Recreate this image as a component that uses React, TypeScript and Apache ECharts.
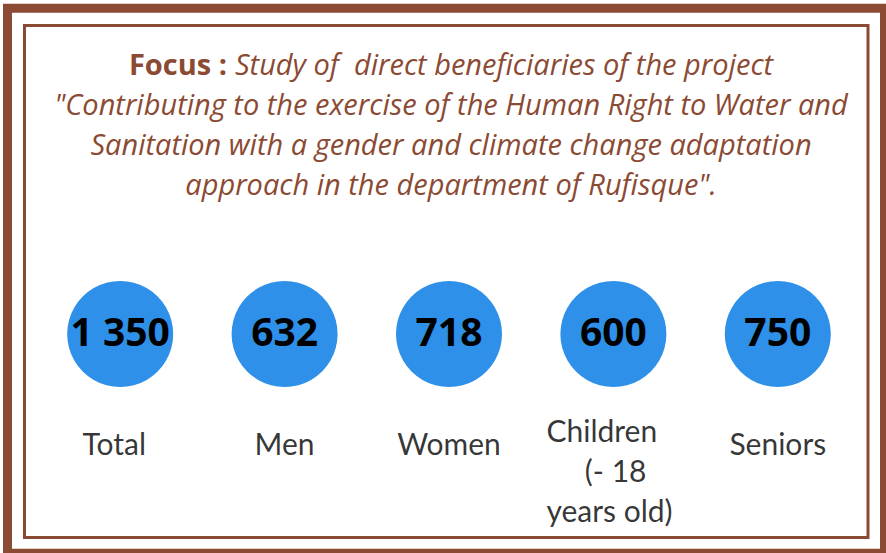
import React, { useEffect, useRef } from "react";
import * as echarts from "echarts";

const categories = ["Total", "Men", "Women", "Children", "Seniors"];
const values = [1350, 632, 718, 600, 750];
const categoryLabels = ["Total", "Men", "Women", "Children\n     (- 18\nyears old)", "Seniors"];
const titleBold = "Focus :";
const titleLines = [
  "Study of  direct beneficiaries of the project",
  "\"Contributing to the exercise of the Human Right to Water and",
  "Sanitation with a gender and climate change adaptation",
  "approach in the department of Rufisque\".",
];

const BROWN = "#8b4a33";
const BLUE = "#2e90e8";

function fmt(v: number): string {
  return String(v).replace(/\B(?=(\d{3})+(?!\d))/g, " ");
}

export default function App() {
  const ref = useRef<HTMLDivElement>(null);
  useEffect(() => {
    if (!ref.current) return;
    const chart = echarts.init(ref.current, null, { renderer: "svg" });
    const titleText =
      "{b|" + titleBold + "}{s| }{i|" + titleLines[0] + "}\n" +
      titleLines.slice(1).map((l) => "{i|" + l + "}").join("\n");
    chart.setOption({
      animation: false,
      backgroundColor: "#ffffff",
      title: {
        text: titleText,
        left: 446,
        top: 38,
        textAlign: "center",
        textStyle: {
          fontWeight: "normal",
          lineHeight: 40,
          rich: {
            b: { fontFamily: "Open Sans", fontWeight: "bold", fontStyle: "normal", fontSize: 29, color: BROWN, lineHeight: 40 },
            s: { fontFamily: "Open Sans", fontSize: 29, width: 8, color: BROWN, lineHeight: 40 },
            i: { fontFamily: "Open Sans", fontWeight: "normal", fontStyle: "italic", fontSize: 29, color: BROWN, lineHeight: 40 },
          },
        },
      },
      grid: { left: 38, right: 26, top: 281, height: 106 },
      xAxis: {
        type: "category",
        data: categories,
        show: false,
      },
      yAxis: { type: "value", min: -1, max: 1, show: false },
      series: [
        {
          type: "scatter",
          symbol: "circle",
          symbolSize: 106,
          itemStyle: { color: BLUE, opacity: 1 },
          data: values.map((v, i) => [categories[i], 0, v]),
          label: {
            show: true,
            position: "inside",
            offset: [0, -4],
            formatter: (p: any) => fmt(p.data[2]),
            fontFamily: "Open Sans",
            fontWeight: "bold",
            fontSize: 39,
            color: "#000000",
          },
          silent: true,
        },
        {
          type: "scatter",
          symbolSize: 1,
          itemStyle: { color: "rgba(0,0,0,0)" },
          data: categories.map((c, i) => ({
            value: [c, 0],
            label:
              i === 3
                ? { align: "left", offset: [-67, 136] }
                : { offset: [i === 0 ? -6 : 0, 109] },
          })),
          label: {
            show: true,
            position: "inside",
            formatter: (p: any) => categoryLabels[p.dataIndex],
            fontFamily: "Lato",
            fontSize: 30,
            lineHeight: 40,
            color: "#000000",
          },
          silent: true,
        },
      ],
      graphic: [
        {
          type: "rect",
          shape: { x: 7.5, y: 8.3, width: 877, height: 545 },
          style: { fill: "none", stroke: BROWN, lineWidth: 9 },
          silent: true,
        },
        {
          type: "rect",
          shape: { x: 24.5, y: 25.5, width: 843.5, height: 512 },
          style: { fill: "none", stroke: BROWN, lineWidth: 3 },
          silent: true,
        },
      ],
    });
    return () => chart.dispose();
  }, []);
  return (
    <div
      ref={ref}
      style={{ position: "fixed", left: 0, top: 0, width: 886, height: 553 }}
    />
  );
}
